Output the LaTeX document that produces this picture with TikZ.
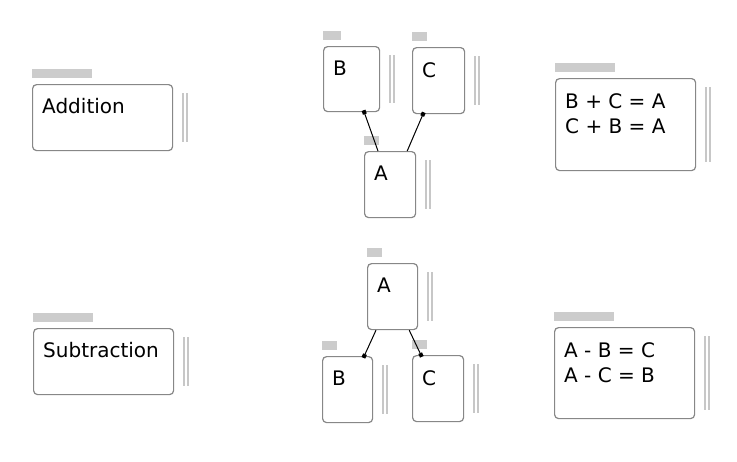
\documentclass[tikz,border=0pt]{standalone}
\usepackage{fontspec}
\setmainfont{DejaVu Sans}
\usetikzlibrary{arrows.meta,positioning}
\tikzset{
  panel/.style={
    draw=black!47,
    line width=1.2pt,
    rounded corners=4pt,
    anchor=north west,
    inner sep=0pt
  },
  paneltext/.style={
    anchor=north west,
    inner sep=0pt,
    align=left,
    font=\fontsize{20}{25}\selectfont
  },
  panelbar/.style={
    fill=black!20
  },
  panelrule/.style={
    draw=black!22,
    line width=1.5pt
  },
  link/.style={
    {Square[length=4pt,width=4pt,sep=-2pt]}-,
    line width=1pt
  }
}

\begin{document}
\begin{tikzpicture}[x=1pt,y=-1pt]
    \useasboundingbox (0,0) rectangle (737,461);

    \node[panel, minimum width=140pt, minimum height=66pt] (add) at (32,84) {};
    \node[panel, minimum width=56pt, minimum height=65pt] (tb) at (323,46) {};
    \node[panel, minimum width=52pt, minimum height=66pt] (tc) at (412,47) {};
    \node[panel, minimum width=51pt, minimum height=66pt] (ta) at (364,151) {};
    \node[panel, minimum width=140pt, minimum height=92pt] (sumeq) at (555,78) {};

    \node[panel, minimum width=140pt, minimum height=66pt] (sub) at (33,328) {};
    \node[panel, minimum width=50pt, minimum height=66pt] (ba) at (367,263) {};
    \node[panel, minimum width=50pt, minimum height=66pt] (bb) at (322,356) {};
    \node[panel, minimum width=51pt, minimum height=66pt] (bc) at (412,355) {};
    \node[panel, minimum width=140pt, minimum height=91pt] (diffeq) at (554,327) {};

    \node[paneltext, below right=14pt and 10pt of add.north west] (addtext) {Addition};
    \node[paneltext, below right=15pt and 10pt of tb.north west] (tbtext) {B};
    \node[paneltext, below right=15pt and 10pt of tc.north west] (tctext) {C};
    \node[paneltext, below right=15pt and 10pt of ta.north west] (tatext) {A};
    \node[paneltext, below right=15.5pt and 10pt of sumeq.north west] (sumeqtext) {B + C = A\\C + B = A};
    \node[paneltext, below right=14pt and 10pt of sub.north west] (subtext) {Subtraction};
    \node[paneltext, below right=15pt and 10pt of ba.north west] (batext) {A};
    \node[paneltext, below right=15pt and 10pt of bb.north west] (bbtext) {B};
    \node[paneltext, below right=15pt and 10pt of bc.north west] (bctext) {C};
    \node[paneltext, below right=15.5pt and 10pt of diffeq.north west] (diffeqtext) {A - B = C\\A - C = B};

    \foreach \n/\w in {add/60,tb/18,tc/15,ta/15,sumeq/60,sub/60,ba/15,bb/15,bc/15,diffeq/60}{
      \fill[panelbar] ([yshift=6pt]\n.north west) rectangle ([xshift=\w pt,yshift=15pt]\n.north west);
      \draw[panelrule] ([xshift=10pt,yshift=-9pt]\n.north east) -- ([xshift=10pt,yshift=9pt]\n.south east);
      \draw[panelrule] ([xshift=14pt,yshift=-9pt]\n.north east) -- ([xshift=14pt,yshift=9pt]\n.south east);
    }

    \draw[link] ([xshift=-16pt]tb.south east) -- ([xshift=14pt]ta.north west);
    \draw[link] ([xshift=11pt]tc.south west) -- ([xshift=-9pt]ta.north east);
    \draw[link] ([xshift=-9pt]bb.north east) -- ([xshift=9pt]ba.south west);
    \draw[link] ([xshift=9pt]bc.north west) -- ([xshift=-9pt]ba.south east);
\end{tikzpicture}
\end{document}
